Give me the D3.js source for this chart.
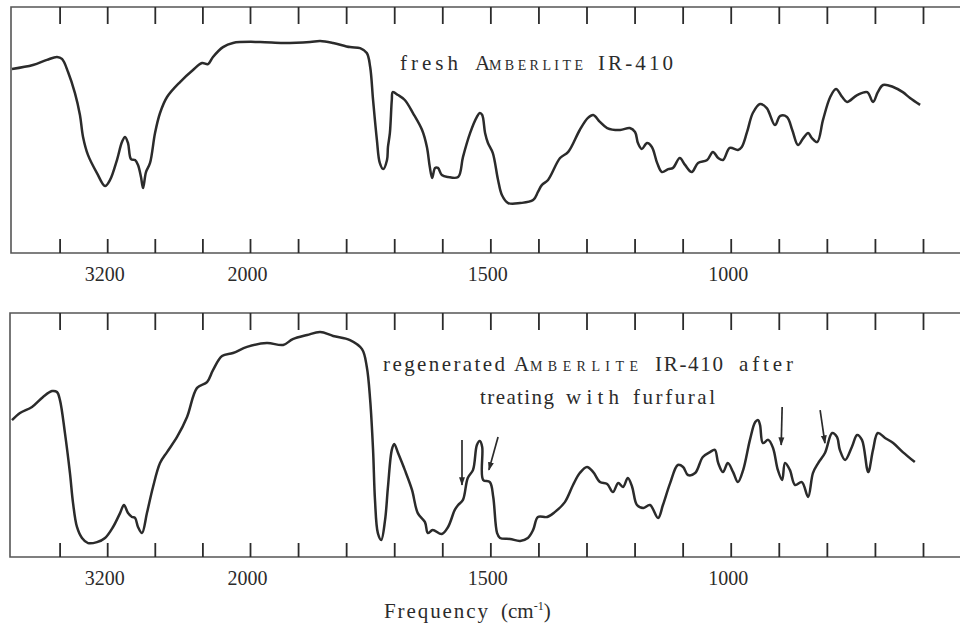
<!DOCTYPE html>
<html>
<head>
<meta charset="utf-8">
<script src="https://cdn.jsdelivr.net/npm/d3@7"></script>
<style>
  body { margin: 0; background: #fff; }
  svg { display: block; }
  text { font-family: "Liberation Serif", "Times New Roman", serif; fill: #2b2b2b; }
</style>
</head>
<body>
<svg id="chart" width="960" height="636"></svg>
<script>
(function(){
'use strict';

// wavenumber (cm-1) / transmittance (%)
var freshWn = [4000, 3824, 3706, 3622, 3580, 3529, 3471, 3429, 3403, 3361, 3286, 3218, 3176, 3118, 3076, 3050,
    3025, 3000, 2966, 2941, 2916, 2899, 2874, 2840, 2798, 2756, 2697, 2588, 2479, 2403, 2353, 2311, 2227, 2143,
    1979, 1931, 1875, 1854, 1827, 1792, 1771, 1757, 1750, 1744, 1736, 1730, 1723, 1715, 1713, 1709, 1705, 1703,
    1692, 1678, 1661, 1642, 1632, 1626, 1621, 1615, 1609, 1601, 1588, 1567, 1557, 1542, 1528, 1522, 1517, 1511,
    1505, 1495, 1484, 1476, 1463, 1438, 1411, 1401, 1393, 1380, 1355, 1338, 1314, 1297, 1286, 1272, 1257, 1230,
    1210, 1199, 1193, 1185, 1174, 1164, 1153, 1143, 1130, 1120, 1106, 1095, 1081, 1068, 1049, 1037, 1026, 1016,
    1002, 985, 977, 966, 954, 939, 925, 908, 897, 883, 872, 860, 849, 839, 831, 820, 808, 793, 781, 768, 758,
    737, 716, 704, 694, 683, 662, 642, 627, 606];
var freshT = [74.8, 76.4, 78.5, 79.7, 78.9, 73.6, 65.0, 56.1, 47.2, 39.8, 32.5, 27.2, 29.7, 37.8, 45.1, 47.2,
    44.7, 38.2, 37.8, 35.8, 30.9, 26.4, 32.9, 36.6, 48.8, 56.9, 63.4, 69.5, 74.4, 77.2, 76.8, 79.7, 83.7, 85.4,
    85.8, 85.4, 85.8, 86.2, 85.4, 83.7, 83.3, 81.3, 75.6, 62.2, 45.9, 36.6, 34.1, 37.8, 43.1, 48.8, 62.2, 65.4,
    64.2, 62.2, 56.9, 50.0, 43.1, 35.0, 30.5, 34.6, 34.6, 31.7, 30.9, 30.9, 39.0, 48.8, 55.3, 56.9, 56.1, 48.8,
    44.7, 40.7, 29.7, 23.6, 20.3, 20.3, 21.5, 24.8, 27.6, 29.7, 38.6, 41.1, 50.0, 54.9, 56.1, 53.3, 50.8, 50.0,
    50.8, 49.2, 44.7, 42.3, 44.7, 43.1, 36.6, 32.9, 34.1, 34.6, 38.6, 35.8, 32.9, 36.6, 37.8, 41.1, 38.6, 37.8,
    42.7, 41.9, 43.1, 49.2, 56.9, 60.6, 58.9, 52.0, 55.7, 55.3, 50.0, 43.9, 46.7, 48.8, 46.7, 45.1, 54.1, 63.4,
    66.7, 63.4, 61.4, 64.2, 65.4, 61.4, 65.4, 68.3, 67.5, 65.4, 63.0, 60.2];

var regenWn = [4000, 3933, 3832, 3739, 3664, 3622, 3597, 3555, 3513, 3487, 3454, 3412, 3361, 3286, 3218, 3151,
    3092, 3059, 3025, 2992, 2966, 2941, 2908, 2866, 2815, 2756, 2697, 2613, 2529, 2445, 2361, 2311, 2235, 2143,
    2025, 1965, 1931, 1911, 1881, 1854, 1827, 1792, 1767, 1757, 1750, 1744, 1740, 1734, 1727, 1719, 1713, 1705,
    1700, 1692, 1678, 1663, 1651, 1636, 1630, 1620, 1601, 1588, 1574, 1567, 1557, 1547, 1536, 1528, 1522, 1517,
    1515, 1501, 1494, 1486, 1480, 1459, 1438, 1422, 1411, 1401, 1382, 1366, 1345, 1328, 1314, 1299, 1286, 1272,
    1257, 1245, 1234, 1224, 1214, 1205, 1195, 1182, 1168, 1151, 1141, 1126, 1110, 1099, 1089, 1074, 1058, 1043,
    1033, 1026, 1016, 1006, 995, 985, 974, 960, 949, 943, 939, 933, 922, 912, 902, 893, 887, 877, 866, 852, 839,
    829, 818, 804, 789, 779, 773, 762, 748, 737, 727, 714, 704, 694, 679, 662, 642, 617];
var regenT = [56.1, 59.0, 61.5, 65.6, 68.0, 67.6, 64.3, 50.8, 34.4, 22.1, 12.3, 7.8, 5.7, 6.1, 7.8, 12.3,
    18.0, 21.3, 18.0, 16.4, 16.0, 12.3, 9.8, 18.0, 28.7, 38.5, 43.0, 49.2, 57.4, 69.3, 71.7, 76.6, 82.4, 83.6,
    86.1, 87.7, 86.9, 89.3, 91.0, 92.2, 90.6, 88.9, 85.2, 77.9, 64.3, 43.9, 23.4, 9.8, 7.0, 15.2, 28.7, 43.9,
    46.3, 42.6, 35.7, 27.5, 18.0, 14.3, 9.8, 11.1, 9.4, 12.3, 19.3, 21.3, 23.4, 32.4, 35.7, 45.9, 47.5, 45.1,
    31.6, 30.7, 24.6, 9.8, 7.8, 7.4, 6.6, 7.8, 11.1, 16.4, 16.4, 18.4, 22.5, 29.5, 34.4, 36.9, 34.8, 30.7,
    29.9, 26.6, 30.3, 28.7, 32.4, 28.7, 21.3, 20.1, 21.3, 16.0, 21.3, 30.3, 37.7, 36.9, 33.6, 34.4, 41.0, 43.0,
    43.9, 38.5, 34.8, 38.5, 34.8, 30.7, 35.7, 48.0, 55.3, 56.1, 54.1, 46.7, 48.0, 44.7, 35.7, 31.6, 38.5, 35.7,
    29.5, 30.7, 24.6, 34.4, 38.5, 42.6, 50.8, 49.2, 43.9, 39.8, 45.1, 50.0, 48.0, 34.8, 43.9, 50.8, 48.8, 46.7,
    43.0, 38.9];

// marked bands in the regenerated spectrum: [wn start, T start, wn end, T end]
var arrows = [[1559, 48.0, 1559, 29.5], [1484, 49.2, 1503, 35.7], [893, 61.5, 895, 45.9], [814, 60.2, 804, 46.7]];

var tickValues = [3600, 3200, 2800, 2400, 2000, 1900, 1800, 1700, 1600, 1500, 1400, 1300, 1200, 1100, 1000,
    900, 800, 700, 600];
var labelValues = [3200, 2000, 1500, 1000];

var serif = '"Liberation Serif", "Times New Roman", "DejaVu Serif", serif';
var svg = d3.select('#chart').style('font-family', serif);
var ink = '#2b2b2b';

// grating change at 2000 cm-1: scale is compressed above it
var x = d3.scaleLinear().domain([4000, 2000, 600]).range([12, 250, 923]);

var panels = [
    {top: 7, bottom: 253, wn: freshWn, t: freshT},
    {top: 313, bottom: 557, wn: regenWn, t: regenT}
];

panels.forEach(function(p, i){
    var y = d3.scaleLinear().domain([0, 100]).range([p.bottom, p.top]);
    var g = svg.append('g');

    // frame, open on the right like the scan
    g.append('path')
        .attr('d', 'M965,' + p.top + 'H' + (11 - i) + 'V' + p.bottom + 'H965')
        .attr('fill', 'none')
        .attr('stroke', '#555')
        .attr('stroke-width', 1.6);

    var topAxis = d3.axisBottom(x).tickValues(tickValues).tickSize(17).tickFormat('');
    g.append('g').attr('transform', 'translate(0,' + p.top + ')').call(topAxis)
        .call(function(s){ s.select('.domain').remove(); })
        .selectAll('line').attr('stroke', ink).attr('stroke-width', 1.8);

    var botAxis = d3.axisTop(x).tickValues(tickValues).tickSize(14).tickFormat('');
    g.append('g').attr('transform', 'translate(0,' + p.bottom + ')').call(botAxis)
        .call(function(s){ s.select('.domain').remove(); })
        .selectAll('line').attr('stroke', ink).attr('stroke-width', 1.8);

    var labAxis = d3.axisBottom(x).tickValues(labelValues).tickSize(0).tickPadding(13)
        .tickFormat(d3.format('d'));
    g.append('g').attr('transform', 'translate(-3,' + p.bottom + ')').call(labAxis)
        .attr('font-family', null)
        .call(function(s){ s.select('.domain').remove(); })
        .selectAll('text')
        .style('font-family', serif)
        .attr('font-size', 21)
        .attr('textLength', 40)
        .attr('lengthAdjust', 'spacingAndGlyphs')
        .attr('fill', ink);

    var line = d3.line()
        .x(function(d){ return x(d[0]); })
        .y(function(d){ return y(d[1]); })
        .curve(d3.curveCatmullRom.alpha(0.5));

    g.append('path')
        .datum(d3.zip(p.wn, p.t))
        .attr('d', line)
        .attr('fill', 'none')
        .attr('stroke', ink)
        .attr('stroke-width', 2.5)
        .attr('stroke-linejoin', 'round');

    p.y = y;
});

// arrows on the lower trace
var yb = panels[1].y;
svg.append('defs').append('marker')
    .attr('id', 'head')
    .attr('viewBox', '0 0 10 10')
    .attr('refX', 9).attr('refY', 5)
    .attr('markerWidth', 5).attr('markerHeight', 7)
    .attr('orient', 'auto')
    .append('path').attr('d', 'M0,1.5L10,5L0,8.5Z').attr('fill', ink);

svg.append('g').selectAll('line').data(arrows).join('line')
    .attr('x1', function(d){ return x(d[0]); })
    .attr('y1', function(d){ return yb(d[1]); })
    .attr('x2', function(d){ return x(d[2]); })
    .attr('y2', function(d){ return yb(d[3]); })
    .attr('stroke', ink)
    .attr('stroke-width', 1.7)
    .attr('marker-end', 'url(#head)');

// captions, AMBERLITE in small caps
function caption(parts, baseline){
    var t = svg.append('text').attr('y', baseline).style('font-family', serif);
    parts.forEach(function(p){
        t.append('tspan')
            .attr('x', p[1])
            .attr('font-size', p[2])
            .attr('textLength', p[3])
            .attr('lengthAdjust', 'spacing')
            .text(p[0]);
    });
}

caption([['fresh', 400, 21, 58], ['A', 475, 21, 13], ['MBERLITE', 489, 14, 94], ['IR-410', 598, 21, 75]], 70);
caption([['regenerated', 383, 21, 122], ['A', 514, 21, 15], ['MBERLITE', 530, 14, 108],
    ['IR-410', 655, 21, 68], ['after', 739, 21, 54]], 371);
caption([['treating', 480, 21, 74], ['with', 566, 21, 53], ['furfural', 633, 21, 82]], 404);

var xl = svg.append('text').attr('y', 618).attr('font-size', 21).style('font-family', serif);
xl.append('tspan').attr('x', 384).attr('textLength', 104).attr('lengthAdjust', 'spacing').text('Frequency');
xl.append('tspan').attr('x', 501).text('(cm');
xl.append('tspan').attr('font-size', 12).attr('dy', -8).text('-1');
xl.append('tspan').attr('font-size', 21).attr('dy', 8).text(')');

})();
</script>
</body>
</html>
